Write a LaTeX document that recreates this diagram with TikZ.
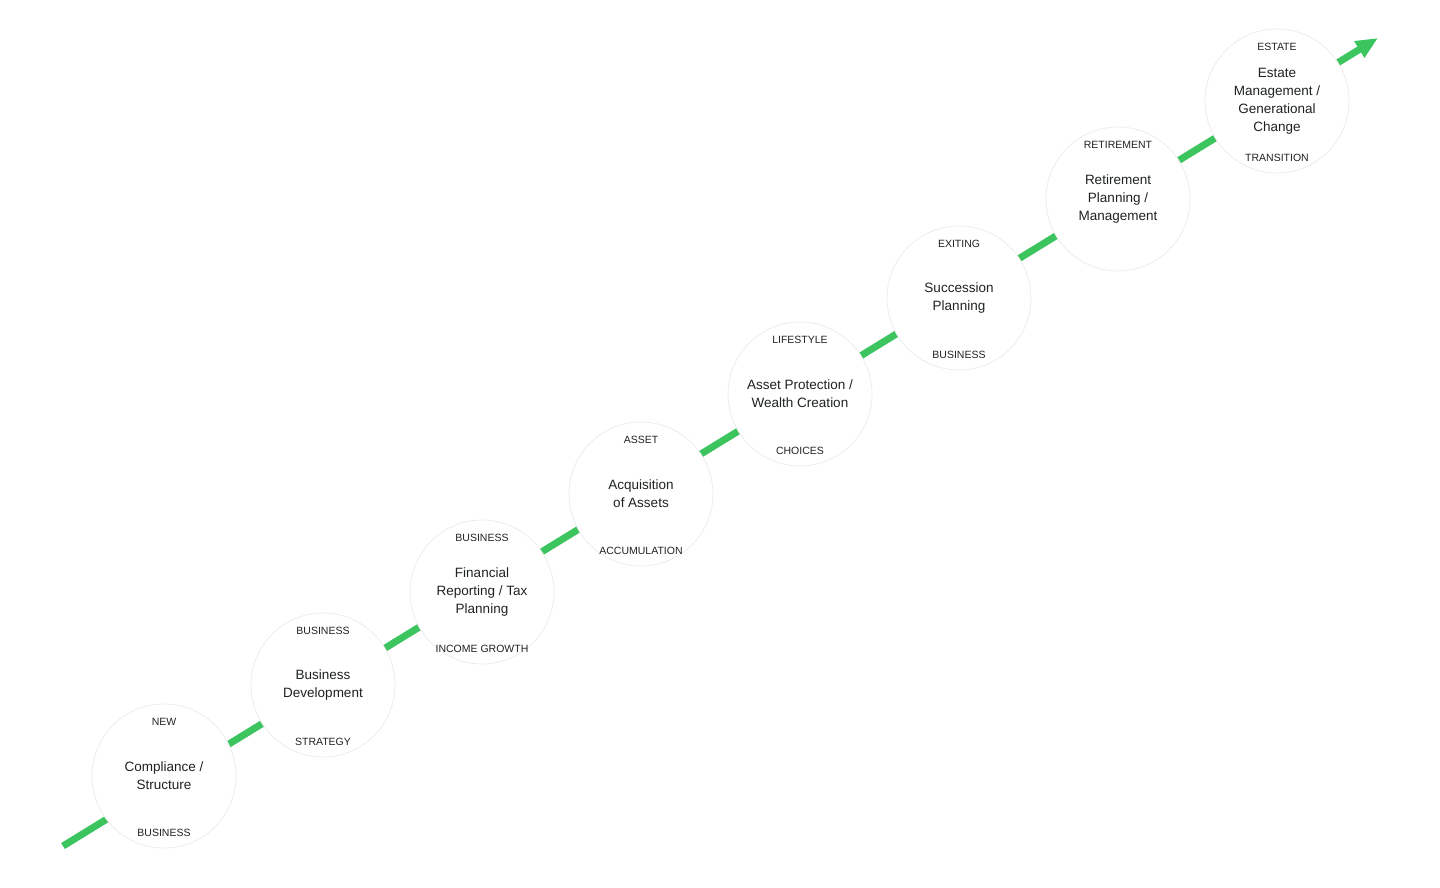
\documentclass[tikz,border=0pt]{standalone}
\usepackage{fontspec}
\setmainfont{Liberation Sans}
\usetikzlibrary{decorations.text,arrows.meta}
\definecolor{grn}{HTML}{3CC45E}
\definecolor{ring}{HTML}{EDEDED}
\definecolor{ink}{HTML}{1E2320}
\begin{document}
\begin{tikzpicture}[x=1pt,y=-1pt,
  stage/.style={circle,fill=white,draw=ring,line width=0.8pt,minimum size=144pt,inner sep=0pt,align=center,text=ink,font=\fontsize{13.5}{18}\selectfont},
  toptxt/.style={decorate,decoration={text effects along path,text={#1},text align=center,
     text effects/.cd,text along path,characters={text=ink,font=\fontsize{10.5}{11}\selectfont},character widths={inner xsep=1.3pt}}},
  bottxt/.style={decorate,decoration={text effects along path,text={#1},text align=center,
     text effects/.cd,text along path,characters={text=ink,font=\fontsize{10.5}{11}\selectfont},character widths={inner xsep=1.3pt}}}]
\useasboundingbox (0,0) rectangle (1440,888);
\coordinate (s) at (63,846);
\coordinate (e) at (1378,38);
\draw[grn,line width=7pt,-{Triangle[length=22pt,width=18pt]}] (s) -- (e);
\foreach \n/\x/\y/\t/\a/\b in {
 1/164/776/{Compliance /\\Structure}/NEW/BUSINESS,
 2/323/685/{Business\\Development}/BUSINESS/STRATEGY,
 3/482/592/{Financial\\Reporting / Tax\\Planning}/BUSINESS/INCOME GROWTH,
 4/641/494/{Acquisition\\of Assets}/ASSET/ACCUMULATION,
 5/800/394/{Asset Protection /\\Wealth Creation}/LIFESTYLE/CHOICES,
 6/959/298/{Succession\\Planning}/EXITING/BUSINESS,
 7/1118/199/{Retirement\\Planning /\\Management}/RETIREMENT/,
 8/1277/101/{Estate\\Management /\\Generational\\Change}/ESTATE/TRANSITION}{
  \node[stage] (c\n) at (\x,\y) {\t};
  \path[toptxt={\a}] (c\n.center) ++(170:-50) ++(170:50) ++(165:0) ++(-165:0) ++(0,0)
     ++(0,0) (c\n.center) ++(160:-0) ++(0,0) ++(-160:0) (\x,\y) ++(200:50) arc[start angle=200,end angle=340,radius=50];
  \path[bottxt={\b}] (\x,\y) ++(160:60) arc[start angle=160,end angle=20,radius=60];
}
\end{tikzpicture}
\end{document}
